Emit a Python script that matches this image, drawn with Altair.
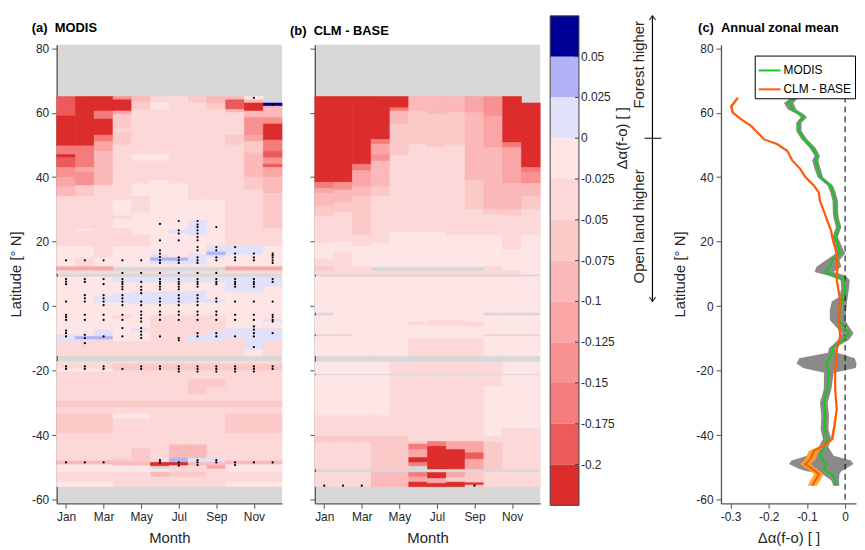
import altair as alt
import pandas as pd

FONT = "Liberation Sans"
MONTHS = ["Jan", "Feb", "Mar", "Apr", "May", "Jun", "Jul", "Aug", "Sep", "Oct", "Nov", "Dec"]
LAT_TICKS = [-60, -50, -40, -30, -20, -10, 0, 10, 20, 30, 40, 50, 60, 70, 80]
MONTH_TICKS = [1, 3, 5, 7, 9, 11]
DX_TICKS = [-0.3, -0.2, -0.1, 0]

# colour classes of the colour bar (top -> bottom)
BIN_EDGES = [0.075, 0.05, 0.025, 0, -0.025, -0.05, -0.075, -0.1, -0.125, -0.15, -0.175, -0.2, -0.225]
BIN_COLORS = ["#000096", "#B2B2F7", "#E1E1FA", "#FEE6E6", "#FDD8D8", "#FCC9C9", "#FBB9B9",
              "#FAA6A6", "#F89292", "#F47C7C", "#EC5A5A", "#DD2C2C"]
CB_LABEL_VALUES = [0.05, 0.025, 0, -0.025, -0.05, -0.075, -0.1, -0.125, -0.15, -0.175, -0.2]
CB_LABELS = ["0.05", "0.025", "0", "-0.025", "-0.05", "-0.075", "-0.1", "-0.125", "-0.15", "-0.175", "-0.2"]
THRESHOLDS = [-0.2, -0.175, -0.15, -0.125, -0.1, -0.075, -0.05, -0.025, 0, 0.025, 0.05]

# ---- (a) MODIS: per month, (upper latitude of segment, value); None = no data
M_JAN = [(65, -0.19), (62, -0.18), (59, -0.21), (49.7, -0.17), (47, -0.21), (46, -0.18), (43, -0.15), (40, -0.11), (37, -0.09), (34, -0.045), (18.5, -0.015), (12.2, -0.12), (11, -0.04), (10.1, None), (9, -0.01), (-8.9, 0.01), (-11, -0.04), (-15.4, None), (-17.2, -0.045), (-19.5, -0.02), (-20.5, -0.04), (-29.5, -0.06), (-31.5, -0.045), (-33.5, -0.06), (-39.5, -0.04), (-48, -0.085), (-49.2, -0.015), (-51.5, -0.045), (-54.5, -0.02), (-56, None)]
M_FEB = [(65, -0.21), (49.7, -0.17), (46, -0.16), (43, -0.12), (41.5, -0.15), (37.4, -0.06), (34, -0.045), (23.8, -0.015), (23.2, -0.045), (18.5, -0.015), (15, -0.03), (12.2, -0.12), (11, -0.04), (10.1, None), (9, -0.01), (-9.4, 0.035), (-10.4, 0.01), (-11, -0.04), (-15.4, None), (-17.2, -0.045), (-19.5, -0.02), (-20.5, -0.04), (-29.5, -0.06), (-31.5, -0.045), (-33.5, -0.06), (-39.5, -0.045), (-48, -0.085), (-49.2, -0.015), (-51.5, -0.045), (-54.5, -0.02), (-56, None)]
M_MAR = [(65, -0.21), (60.5, -0.17), (58, -0.21), (53, -0.16), (51, -0.12), (48, -0.09), (37.4, -0.045), (18.5, -0.03), (15, -0.02), (12.2, -0.12), (11, -0.04), (10.1, None), (9, -0.01), (3, 0.01), (1, -0.01), (-7.4, 0.01), (-9.4, 0.035), (-10.4, -0.03), (-15.4, None), (-17.2, -0.045), (-19.5, -0.02), (-20.5, -0.04), (-29.5, -0.06), (-31.5, -0.045), (-33.5, -0.06), (-39.5, -0.045), (-48, -0.085), (-49.2, -0.015), (-51.5, -0.045), (-54.5, -0.02), (-56, None)]
M_APR = [(65, -0.15), (64, -0.21), (60.5, -0.12), (59.5, -0.07), (55, -0.04), (54, -0.07), (50, -0.045), (33, -0.015), (28, -0.04), (27, -0.015), (24, -0.04), (18.5, -0.015), (12.2, None), (10.9, -0.04), (10.1, None), (9, 0.01), (7.5, -0.01), (4, 0.01), (1, -0.01), (-3, -0.04), (-4, -0.01), (-11, -0.03), (-15.4, None), (-17.2, -0.04), (-18, -0.06), (-20, -0.04), (-29.5, -0.06), (-31.5, -0.045), (-33.5, -0.015), (-35, -0.045), (-47.4, -0.06), (-48.5, -0.085), (-49.5, -0.015), (-51.5, -0.045), (-54.5, -0.04), (-56, None)]
M_MAY = [(65, -0.09), (63.5, -0.06), (61, -0.04), (47, -0.015), (45, -0.04), (38, -0.015), (34, -0.03), (29, -0.015), (22, -0.035), (18.5, -0.015), (12.2, None), (10.9, -0.04), (10.1, None), (9, 0.01), (7.5, -0.01), (4.5, 0.01), (0.5, -0.01), (-7, 0.01), (-8, -0.01), (-11, -0.03), (-15.4, None), (-17.2, -0.04), (-18, -0.06), (-20, -0.04), (-29.5, -0.06), (-31.5, -0.045), (-33.5, -0.015), (-35, -0.045), (-44, -0.06), (-48.5, -0.085), (-49.5, -0.015), (-51.5, -0.045), (-54.5, -0.04), (-56, None)]
M_JUN = [(65, -0.04), (63, -0.01), (61, -0.04), (47, -0.01), (45, -0.04), (39, -0.015), (16, 0.01), (15, 0.035), (14, 0.01), (13, -0.015), (12.2, None), (10.9, -0.04), (10.1, None), (9, 0.01), (7.5, -0.01), (4.5, 0.01), (0.5, -0.01), (-3, -0.03), (-11, -0.03), (-15.4, None), (-17.2, -0.04), (-18, -0.06), (-20, -0.04), (-29.5, -0.06), (-31.5, -0.04), (-44, -0.05), (-48.5, -0.21), (-49.5, None), (-50.5, -0.015), (-51.5, -0.1), (-53, -0.045), (-54.5, -0.04), (-56, None)]
M_JUL = [(65, -0.04), (38, -0.015), (23.5, 0.01), (22.5, -0.015), (15, 0.035), (14, 0.01), (13, -0.015), (12.2, None), (10.9, 0.01), (10.1, None), (9, 0.01), (7.5, -0.01), (4.5, 0.01), (0.5, -0.01), (-3, -0.03), (-11, -0.04), (-15.4, None), (-17.2, -0.04), (-18, -0.06), (-20, -0.04), (-29.5, -0.06), (-31.5, -0.04), (-43, -0.085), (-47.2, 0.035), (-48.5, -0.21), (-49.5, -0.04), (-51.5, -0.06), (-53, -0.04), (-56, None)]
M_AUG = [(65, -0.06), (63, -0.04), (33, -0.02), (26.5, 0.01), (22, -0.015), (16, 0.01), (13, -0.015), (12.2, None), (10.9, -0.04), (10.1, None), (9, 0.01), (7.5, -0.01), (4.5, 0.01), (1, -0.01), (-3, -0.03), (-9, 0.01), (-11, -0.04), (-15.4, None), (-17.2, -0.04), (-18, -0.06), (-20, -0.04), (-22.8, -0.06), (-27.4, -0.04), (-29.5, -0.06), (-31.5, -0.04), (-43, -0.085), (-47.2, 0.01), (-48.5, -0.085), (-49.5, -0.04), (-51.5, -0.06), (-53, -0.04), (-56, None)]
M_SEP = [(65, -0.1), (63, -0.06), (61, -0.04), (33, -0.02), (18.8, 0.01), (16.8, 0.035), (15.8, 0.01), (15, -0.015), (12.2, None), (10.9, -0.04), (10.1, None), (9, 0.01), (7.5, -0.01), (2, 0.01), (1, -0.01), (-3, -0.03), (-8, 0.01), (-11, -0.04), (-15.4, None), (-17.2, -0.04), (-18, -0.06), (-20, -0.04), (-22.8, -0.06), (-25, -0.04), (-29.5, -0.06), (-31.5, -0.04), (-47.2, 0.01), (-48.5, -0.085), (-49.5, -0.11), (-50.5, -0.04), (-56, None)]
M_OCT = [(65, -0.1), (64, -0.19), (61, -0.09), (60, -0.045), (53, -0.06), (50, -0.04), (33, -0.045), (18.8, 0.01), (15.8, -0.015), (12.2, -0.12), (11, -0.04), (10.1, None), (9, 0.01), (4.5, -0.01), (-7, 0.01), (-10, -0.04), (-15.4, None), (-17.2, -0.045), (-18, -0.06), (-20, -0.04), (-29.5, -0.06), (-31.5, -0.045), (-33.5, -0.06), (-39.5, -0.045), (-48, -0.085), (-49.2, -0.015), (-51.5, -0.045), (-54.5, -0.02), (-56, None)]
M_NOV = [(65, -0.01), (64, -0.09), (63, -0.21), (60.5, -0.09), (58.5, -0.15), (56, -0.13), (53, -0.11), (51, -0.07), (47.5, -0.1), (43, -0.085), (40, -0.065), (36, -0.045), (25, -0.04), (18.8, 0.01), (15.8, -0.015), (12.2, -0.12), (11, -0.04), (10.1, None), (9, 0.01), (4.5, -0.01), (-7, 0.01), (-13.5, -0.02), (-15.4, None), (-17.2, -0.045), (-18, -0.06), (-20, -0.04), (-29.5, -0.06), (-31.5, -0.045), (-33.5, -0.06), (-39.5, -0.045), (-48, -0.085), (-49.2, -0.015), (-51.5, -0.045), (-54.5, -0.02), (-56, None)]
M_DEC = [(63, 0.07), (62, -0.1), (58.5, -0.14), (56.5, -0.21), (51.5, -0.17), (48, -0.18), (46, -0.13), (44, -0.19), (43, -0.12), (40, -0.1), (37, -0.09), (35, -0.06), (24, -0.04), (18.5, -0.015), (12.2, -0.12), (11, -0.04), (10.1, None), (9, 0.01), (6, -0.01), (-4, 0.01), (-5, -0.01), (-7, 0.01), (-11, -0.04), (-15.4, None), (-17.2, -0.045), (-18, -0.06), (-20, -0.04), (-29.5, -0.06), (-31.5, -0.045), (-33.5, -0.06), (-39.5, -0.045), (-48, -0.085), (-49.2, -0.015), (-51.5, -0.045), (-54.5, -0.02), (-56, None)]
MODIS_COLUMNS = [M_JAN, M_FEB, M_MAR, M_APR, M_MAY, M_JUN, M_JUL, M_AUG, M_SEP, M_OCT, M_NOV, M_DEC]

# ---- (b) CLM - BASE
C_JAN = [(65, -0.21), (38.4, -0.16), (36.5, -0.12), (35, -0.095), (31, -0.07), (28, -0.045), (19.5, -0.015), (14.5, -0.03), (12.2, -0.06), (11, -0.045), (9.9, None), (9.1, -0.01), (-2, None), (-3, -0.01), (-8.7, None), (-9.4, -0.015), (-15.4, None), (-17.3, -0.015), (-21, None), (-21.5, -0.015), (-34, -0.03), (-40.3, -0.055), (-42.3, -0.045), (-50.5, None), (-51.6, -0.04), (-56, None)]
C_FEB = [(65, -0.21), (38.4, -0.13), (36, -0.09), (32, -0.065), (29, -0.045), (20, -0.015), (16.5, -0.03), (12.2, -0.05), (11, -0.045), (9.9, None), (9.1, -0.01), (-8.7, None), (-9.4, -0.015), (-15.4, None), (-17.3, -0.015), (-21, None), (-21.5, -0.015), (-34, -0.03), (-40.3, -0.055), (-42.3, -0.045), (-50.5, None), (-51.6, -0.035), (-56, None)]
C_MAR = [(65, -0.21), (44, -0.17), (42, -0.12), (37, -0.09), (34, -0.065), (22, -0.045), (18.5, -0.015), (12.2, -0.04), (11, -0.045), (9.9, None), (9.1, -0.01), (-15.4, None), (-17.3, -0.015), (-21, None), (-21.5, -0.015), (-34, -0.035), (-40.3, -0.055), (-42.3, -0.05), (-50.5, None), (-51.6, -0.045), (-56, None)]
C_APR = [(65, -0.21), (51.7, -0.17), (50.2, -0.12), (47, -0.13), (45, -0.1), (41.5, -0.08), (37, -0.06), (34, -0.045), (19.5, -0.012), (12.2, None), (10.9, -0.03), (9.9, None), (9.1, -0.01), (-15.4, None), (-17.3, -0.02), (-21, None), (-21.5, -0.02), (-34, -0.04), (-40.3, -0.055), (-50.5, None), (-51.6, -0.085), (-56, None)]
C_MAY = [(65, -0.21), (61.5, -0.17), (60.5, -0.1), (56.4, -0.07), (46.6, -0.045), (23, -0.012), (12.2, None), (10.9, -0.03), (9.9, None), (9.1, -0.01), (-15.4, None), (-17.3, -0.04), (-21, None), (-21.5, -0.04), (-40.3, -0.06), (-44, -0.07), (-50.5, None), (-51.6, -0.08), (-56, None)]
C_JUN = [(65, -0.1), (60.5, -0.065), (50.2, -0.04), (23, -0.012), (12.2, None), (10.9, -0.03), (9.9, None), (9.1, -0.01), (-5, -0.03), (-6, -0.01), (-10.4, -0.04), (-15.4, None), (-17.3, -0.04), (-21, None), (-21.5, -0.045), (-42, -0.06), (-42.8, -0.17), (-44.5, -0.12), (-47, -0.21), (-48.5, -0.17), (-49.5, None), (-51.6, -0.16), (-53, -0.12), (-54.6, -0.21), (-56, None)]
C_JUL = [(65, -0.1), (59.5, -0.065), (49.3, -0.04), (23, -0.012), (12.2, None), (10.9, -0.03), (9.9, None), (9.1, -0.01), (-4.5, -0.03), (-6, -0.01), (-10.4, -0.04), (-15.4, None), (-17.3, -0.04), (-21, None), (-21.5, -0.045), (-42, -0.17), (-43.5, -0.21), (-50.5, None), (-51.6, -0.21), (-53.5, -0.12), (-55, -0.21), (-56, None)]
C_AUG = [(65, -0.09), (60, -0.065), (50, -0.04), (22, -0.012), (12.2, None), (10.9, -0.03), (9.9, None), (9.1, -0.01), (-4.5, -0.03), (-6, -0.01), (-10.4, -0.04), (-15.4, None), (-17.3, -0.04), (-21, None), (-21.5, -0.045), (-42, -0.12), (-44.5, -0.21), (-50.5, None), (-51.6, -0.12), (-53, -0.07), (-54.6, -0.21), (-56, None)]
C_SEP = [(65, -0.12), (60, -0.09), (38.9, -0.06), (30, -0.045), (22, -0.012), (12.2, None), (10.9, -0.03), (9.9, None), (9.1, -0.01), (-5, -0.03), (-6.5, -0.012), (-10.4, -0.04), (-15.4, None), (-17.3, -0.04), (-21, None), (-21.5, -0.045), (-32, -0.03), (-42, -0.12), (-45.5, -0.18), (-47.5, -0.12), (-50.5, None), (-51.6, -0.07), (-54.8, -0.21), (-55.5, -0.06), (-56, None)]
C_OCT = [(65, -0.14), (62, -0.15), (59, -0.12), (49.2, -0.1), (40, -0.085), (30, -0.06), (28.5, -0.045), (22, -0.015), (12.2, -0.03), (11, -0.04), (9.9, None), (9.1, -0.01), (-2, None), (-3, -0.012), (-8.7, None), (-9.4, -0.015), (-15.4, None), (-17.3, -0.03), (-21, None), (-21.5, -0.045), (-25, -0.015), (-40.3, -0.045), (-42.3, -0.06), (-50.5, None), (-51.6, -0.03), (-56, None)]
C_NOV = [(65, -0.21), (50.7, -0.17), (49.2, -0.11), (38, -0.09), (30, -0.06), (28, -0.045), (22, -0.04), (17.5, -0.012), (12.2, -0.015), (11, -0.04), (9.9, None), (9.1, -0.01), (-2, None), (-3, -0.012), (-8.7, None), (-9.4, -0.015), (-15.4, None), (-17.3, -0.02), (-21, None), (-21.5, -0.02), (-38, -0.035), (-40.3, -0.045), (-42.3, -0.04), (-50.5, None), (-51.6, -0.03), (-56, None)]
C_DEC = [(63, -0.21), (43, -0.17), (41.5, -0.13), (38, -0.1), (34, -0.07), (30, -0.045), (22, -0.015), (9.9, None), (9.1, -0.012), (-2, None), (-3, -0.012), (-8.7, None), (-9.4, -0.012), (-15.4, None), (-17.3, -0.02), (-21, None), (-21.5, -0.02), (-38, -0.03), (-42.3, -0.04), (-50.5, None), (-51.6, -0.03), (-56, None)]
CLM_COLUMNS = [C_JAN, C_FEB, C_MAR, C_APR, C_MAY, C_JUN, C_JUL, C_AUG, C_SEP, C_OCT, C_NOV, C_DEC]

# ---- significance stippling (latitudes per month)
DOTS_A = [
    [14.2, 8.4, 7.6, 6.8, 1.4, -2.7, -3.4, -4.3, -7.6, -8.4, -9.4, -18.7, -19.5, -48.5],
    [14.2, 8.4, 7.5, 3.4, 2.4, 1.4, -2.7, -4.3, -8.9, -9.9, -11.5, -18.7, -19.5, -48.5],
    [14.2, 8.4, 6.8, 3.4, 2.4, 1.4, 0.3, -2.7, -4.3, -9.4, -18.7, -19.5, -48.5],
    [14.2, 10.3, 8.4, 7.5, 6.8, 6.0, 5.2, 3.4, 2.4, 1.4, 0.3, -2.7, -4.3, -6.8, -9.4, -19.5],
    [14.2, 10.3, 7.5, 6.0, 5.0, 4.0, 1.4, 0.3, -1.7, -2.7, -3.8, -4.8, -6.8, -7.9, -8.9, -9.9, -18.7, -19.5],
    [25.5, 20.4, 17.3, 16.3, 15.3, 14.2, 13.4, 10.3, 8.4, 7.5, 6.8, 6.0, 5.2, 2.4, 1.4, 0.3, -1.7, -2.7, -4.3, -9.4, -18.7, -19.5, -47.8, -48.5],
    [26.4, 23.5, 22.5, 20.4, 15.1, 14.2, 13.4, 10.3, 8.4, 7.5, 6.8, 6.0, 5.2, 3.4, 2.4, 1.4, 0.3, -1.7, -2.7, -4.3, -9.9, -10.6, -18.7, -19.5, -20.3, -48.5, -49.5],
    [26.4, 25.3, 24.5, 23.5, 22.5, 21.4, 20.4, 18.3, 17.3, 15.1, 14.2, 13.4, 10.3, 8.4, 7.5, 6.8, 6.0, 3.4, 2.4, 1.4, 0.3, -1.7, -2.7, -4.3, -8.4, -9.4, -18.7, -19.5, -20.3, -47.8, -48.5, -49.3],
    [24.5, 18.3, 17.3, 15.1, 14.2, 10.3, 8.4, 7.5, 6.8, 2.4, 1.4, -1.7, -2.7, -4.3, -8.4, -9.4, -18.7, -19.5, -20.3, -47.8, -48.5],
    [18.3, 16.3, 15.1, 14.2, 8.4, 7.5, 6.8, 6.0, 1.4, -2.7, -4.3, -9.4, -18.7, -19.5, -20.3, -48.5, -49.3],
    [64.6, 16.3, 15.1, 14.2, 8.4, 7.5, 6.8, 6.0, 1.4, -2.7, -4.3, -6.3, -7.3, -8.4, -9.4, -12.7, -18.7, -19.5, -20.3, -48.5],
    [62.5, 16.3, 15.8, 15.1, 14.2, 13.4, 8.4, 7.5, 1.4, -2.7, -3.4, -4.3, -4.8, -8.4, -18.7, -19.5, -48.5],
]
DOTS_B = [[-55.7], [-55.7], [-55.7], [], [], [], [], [], [-55.7], [], [], []]

# ---- (c) annual zonal means
MODIS_LAT = [64.4, 63.0, 61.0, 59.5, 58.6, 56.9, 54.3, 51.8, 49.2, 46.6, 45.1, 42.5, 40.0, 37.4, 35.3, 32.7, 28.6, 26.6, 24.5, 21.4, 18.3, 16.3, 14.2, 12.2, 10.6, 9.5, 8.1, 5.5, 2.9, 1.4, -1.2, -4.3, -6.3, -8.4, -10.4, -12.0, -13.0, -14.5, -16.2, -17.8, -19.2, -20.7, -25.9, -30.0, -34.1, -38.2, -41.3, -43.8, -46.4, -47.9, -49.0, -50.5, -51.2, -52.1, -54.1, -55.7]
MODIS_VAL = [-0.135, -0.147, -0.138, -0.117, -0.108, -0.121, -0.121, -0.108, -0.086, -0.073, -0.078, -0.072, -0.065, -0.039, -0.032, -0.026, -0.025, -0.022, -0.017, -0.026, -0.017, -0.013, -0.034, -0.039, -0.052, -0.03, -0.002, 0.0, -0.004, -0.009, -0.015, -0.017, -0.004, 0.009, -0.004, -0.022, -0.034, -0.034, -0.04, -0.049, -0.046, -0.043, -0.046, -0.056, -0.052, -0.054, -0.046, -0.056, -0.065, -0.058, -0.049, -0.056, -0.05, -0.034, -0.026, -0.023]
MODIS_LO = [-0.145, -0.16, -0.15, -0.125, -0.116, -0.128, -0.128, -0.115, -0.094, -0.08, -0.086, -0.08, -0.072, -0.046, -0.039, -0.033, -0.032, -0.029, -0.024, -0.033, -0.026, -0.025, -0.05, -0.075, -0.08, -0.045, -0.012, -0.01, -0.015, -0.035, -0.04, -0.04, -0.025, -0.008, -0.018, -0.032, -0.042, -0.045, -0.12, -0.127, -0.11, -0.055, -0.056, -0.066, -0.062, -0.064, -0.058, -0.07, -0.1, -0.14, -0.147, -0.12, -0.1, -0.06, -0.036, -0.031]
MODIS_HI = [-0.125, -0.135, -0.128, -0.108, -0.1, -0.114, -0.114, -0.1, -0.078, -0.066, -0.07, -0.064, -0.058, -0.032, -0.025, -0.019, -0.018, -0.015, -0.01, -0.019, -0.008, 0.0, -0.015, -0.01, -0.03, 0.0, 0.012, 0.01, 0.007, 0.005, 0.003, 0.0, 0.01, 0.022, 0.01, -0.012, -0.026, -0.02, 0.025, 0.03, 0.028, -0.03, -0.036, -0.046, -0.042, -0.044, -0.036, -0.044, -0.03, 0.015, 0.022, 0.0, -0.01, -0.015, -0.016, -0.015]
CLM_LAT = [64.6, 62.0, 60.0, 57.9, 55.9, 53.3, 51.7, 50.2, 48.1, 45.1, 42.5, 40.0, 37.4, 35.3, 32.7, 29.6, 26.6, 23.5, 20.4, 16.3, 12.2, 8.1, 1.9, -4.3, -9.4, -13.5, -19.7, -25.8, -32.0, -37.2, -41.3, -43.3, -44.9, -47.5, -49.0, -50.5, -52.1, -54.1, -55.7]
CLM_VAL = [-0.281, -0.298, -0.294, -0.272, -0.246, -0.225, -0.212, -0.177, -0.151, -0.138, -0.117, -0.104, -0.082, -0.069, -0.066, -0.056, -0.047, -0.037, -0.032, -0.022, -0.020, -0.022, -0.013, -0.017, -0.013, -0.022, -0.026, -0.026, -0.022, -0.028, -0.034, -0.056, -0.082, -0.091, -0.104, -0.086, -0.069, -0.078, -0.086]
CLM_ERR = [0.004, 0.004, 0.003, 0.002, 0.002, 0.002, 0.002, 0.002, 0.002, 0.002, 0.002, 0.002, 0.002, 0.002, 0.002, 0.002, 0.002, 0.002, 0.002, 0.002, 0.002, 0.002, 0.002, 0.002, 0.002, 0.002, 0.002, 0.002, 0.002, 0.003, 0.004, 0.008, 0.013, 0.014, 0.014, 0.013, 0.012, 0.013, 0.012]


def columns_to_frame(columns):
    rows = []
    for m, segs in enumerate(columns, start=1):
        for (top, val), (bottom, _) in zip(segs[:-1], segs[1:]):
            if val is None:
                continue
            rows.append({"month": m, "lat_hi": top, "lat_lo": bottom, "val": val})
    return pd.DataFrame(rows)


def dots_to_frame(dots):
    return pd.DataFrame([{"month": m, "lat": v} for m, lats in enumerate(dots, start=1) for v in lats])


y_scale = alt.Scale(domain=[-61.2, 81.1], nice=False, zero=False)
x_month_scale = alt.Scale(domain=[0.5, 12.5], nice=False, zero=False)
color_scale = alt.Scale(type="threshold", domain=THRESHOLDS, range=list(reversed(BIN_COLORS)))
month_expr = "[" + ",".join("'%s'" % m for m in MONTHS) + "][datum.value - 1]"

W, H = 227, 462
TITLE_OFFSET = 7


def heat_panel(columns, dots, title, y_labels):
    df = columns_to_frame(columns)
    y_axis = alt.Axis(values=LAT_TICKS, labelExpr="'' + datum.value",
                      title="Latitude [° N]" if y_labels else None, labels=y_labels)
    rects = alt.Chart(df).transform_calculate(
        x0="datum.month - 0.5", x1="datum.month + 0.5"
    ).mark_rect(strokeWidth=0.6).encode(
        x=alt.X("x0:Q", scale=x_month_scale,
                axis=alt.Axis(values=MONTH_TICKS, labelExpr=month_expr, title="Month")),
        x2="x1:Q",
        y=alt.Y("lat_hi:Q", scale=y_scale, axis=y_axis),
        y2="lat_lo:Q",
        fill=alt.Fill("val:Q", scale=color_scale, legend=None),
        stroke=alt.Stroke("val:Q", scale=color_scale, legend=None),
    )
    layers = [rects]
    ddf = dots_to_frame(dots)
    if len(ddf):
        layers.append(alt.Chart(ddf).mark_circle(size=5, color="black", opacity=1).encode(
            x=alt.X("month:Q", scale=x_month_scale), y=alt.Y("lat:Q", scale=y_scale)))
    return alt.layer(*layers).properties(
        width=W, height=H,
        title=alt.Title(title, anchor="start", frame="group", dx=-25, fontSize=13,
                        fontWeight="bold", font=FONT, color="black", offset=TITLE_OFFSET),
        view=alt.ViewBackground(fill="#D8D8D8", stroke=None),
    )


panel_a = heat_panel(MODIS_COLUMNS, DOTS_A, "(a)\u00a0\u00a0MODIS", True)
panel_b = heat_panel(CLM_COLUMNS, DOTS_B, "(b)\u00a0\u00a0CLM - BASE", False)

# ---- colour bar (same plot height as the panels; the bar itself reaches above the panel top)
cb_scale = alt.Scale(domain=[-0.2238, 0.05735], nice=False, zero=False)
cb_df = pd.DataFrame({"hi": BIN_EDGES[:-1], "lo": BIN_EDGES[1:], "color": BIN_COLORS})
lab_df = pd.DataFrame({"v": CB_LABEL_VALUES, "label": CB_LABELS})
CBW = 29
cb_bars = alt.Chart(cb_df).mark_rect().encode(
    y=alt.Y("hi:Q", scale=cb_scale, axis=None), y2="lo:Q",
    x=alt.value(0), x2=alt.value(CBW), fill=alt.Fill("color:N", scale=None))
cb_frame = alt.Chart(pd.DataFrame({"a": [BIN_EDGES[0]], "b": [BIN_EDGES[-1]]})).mark_rect(
    fillOpacity=0, stroke="#444", strokeWidth=1).encode(
    y=alt.Y("a:Q", scale=cb_scale, axis=None), y2="b:Q", x=alt.value(0), x2=alt.value(CBW))
cb_ticks = alt.Chart(lab_df).mark_rule(color="#444").encode(
    y=alt.Y("v:Q", scale=cb_scale), x=alt.value(CBW - 4), x2=alt.value(CBW))
cb_text = alt.Chart(lab_df).mark_text(align="left", baseline="middle", fontSize=12, font=FONT,
                                      color="#262626").encode(
    y=alt.Y("v:Q", scale=cb_scale), x=alt.value(CBW + 2), text="label:N")
cb_title = alt.Chart(pd.DataFrame({"t": ["Δα(f-o) [ ]"], "v": [0.0]})).mark_text(
    angle=270, fontSize=15, font=FONT, color="#262626", baseline="middle", align="center").encode(
    y=alt.Y("v:Q", scale=cb_scale), x=alt.value(72), text="t:N")
side_df = pd.DataFrame({"t": ["Forest higher", "Open land higher"], "v": [0.045, -0.054]})
cb_side = alt.Chart(side_df).mark_text(
    angle=270, fontSize=15, font=FONT, color="#262626", baseline="middle", align="center").encode(
    y=alt.Y("v:Q", scale=cb_scale), x=alt.value(89), text="t:N")
arrow_df = pd.DataFrame({"top": [0.075], "bot": [-0.1], "zero": [0.0]})
cb_arrow = alt.Chart(arrow_df).mark_rule(color="black", strokeWidth=1.2).encode(
    y=alt.Y("top:Q", scale=cb_scale), y2="bot:Q", x=alt.value(103))
cb_zero = alt.Chart(arrow_df).mark_rule(color="black", strokeWidth=1).encode(
    y=alt.Y("zero:Q", scale=cb_scale), x=alt.value(95), x2=alt.value(112))
head_up = alt.Chart(arrow_df).mark_point(shape="M -1 1.4 L 0 0 L 1 1.4", size=40, color="black",
                                         strokeWidth=1.3, filled=False).encode(
    y=alt.Y("top:Q", scale=cb_scale), x=alt.value(103))
head_dn = alt.Chart(arrow_df).mark_point(shape="M -1 -1.4 L 0 0 L 1 -1.4", size=40, color="black",
                                         strokeWidth=1.3, filled=False).encode(
    y=alt.Y("bot:Q", scale=cb_scale), x=alt.value(103))
colorbar = alt.layer(cb_bars, cb_frame, cb_ticks, cb_text, cb_title, cb_side,
                     cb_arrow, cb_zero, head_up, head_dn).properties(
    width=CBW, height=H, view=alt.ViewBackground(stroke=None))

# ---- (c) annual zonal mean
CW = 136
cx_scale = alt.Scale(domain=[-0.325, 0.0285], nice=False, zero=False)
cx_axis = alt.Axis(values=DX_TICKS, labelExpr="'' + datum.value", title="Δα(f-o) [ ]")
cy_axis = alt.Axis(values=LAT_TICKS, labelExpr="'' + datum.value", title="Latitude [° N]")
modis_df = pd.DataFrame({"lat": MODIS_LAT, "val": MODIS_VAL, "lo": MODIS_LO, "hi": MODIS_HI, "series": "MODIS"})
clm_df = pd.DataFrame({"lat": CLM_LAT, "val": CLM_VAL, "series": "CLM - BASE"})
clm_df["lo"] = clm_df["val"] - pd.Series(CLM_ERR)
clm_df["hi"] = clm_df["val"] + pd.Series(CLM_ERR)

band_m = alt.Chart(modis_df).mark_area(orient="horizontal", color="#8A8A8A", opacity=1).encode(
    y=alt.Y("lat:Q", scale=y_scale, axis=cy_axis),
    x=alt.X("lo:Q", scale=cx_scale, axis=cx_axis), x2="hi:Q")
band_c = alt.Chart(clm_df).mark_area(orient="horizontal", color="#FFA21F", opacity=0.9).encode(
    y=alt.Y("lat:Q", scale=y_scale), x=alt.X("lo:Q", scale=cx_scale), x2="hi:Q")
zero_line = alt.Chart(pd.DataFrame({"x": [0.0], "y": [65.0], "y2": [-61.2]})).mark_rule(
    color="black", strokeDash=[6, 4], strokeWidth=1).encode(
    x=alt.X("x:Q", scale=cx_scale), y=alt.Y("y:Q", scale=y_scale), y2="y2:Q")
lines = alt.Chart(pd.concat([modis_df, clm_df])).mark_line(strokeWidth=2.2).encode(
    x=alt.X("val:Q", scale=cx_scale),
    y=alt.Y("lat:Q", scale=y_scale),
    order=alt.Order("lat:Q"),
    color=alt.Color("series:N",
                    scale=alt.Scale(domain=["MODIS", "CLM - BASE"], range=["#1FC41F", "#FF5A0A"]),
                    legend=alt.Legend(title=None, orient="none", legendX=703, legendY=11,
                                      strokeColor="black", fillColor="white", padding=3,
                                      symbolType="stroke", symbolSize=480, symbolStrokeWidth=2,
                                      labelFontSize=12, labelFont=FONT, labelColor="black",
                                      rowPadding=1, labelOffset=2)),
)
panel_c = alt.layer(band_m, band_c, zero_line, lines).properties(
    width=CW, height=H,
    title=alt.Title("(c)\u00a0\u00a0Annual zonal mean", anchor="start", frame="group", dx=-23,
                    fontSize=13, fontWeight="bold", font=FONT, color="black", offset=TITLE_OFFSET),
    view=alt.ViewBackground(stroke=None),
)

left = alt.hconcat(panel_a, panel_b, spacing=7)
right = alt.hconcat(colorbar, panel_c, spacing=10)
chart = alt.hconcat(left, right, spacing=8).properties(
    padding={"left": 0, "top": 3, "right": 0, "bottom": 0}
).configure_axis(
    labelFont=FONT, labelFontSize=12, labelColor="#262626",
    titleFont=FONT, titleFontSize=15, titleFontWeight="normal", titleColor="#262626",
    domainColor="#555555", domainWidth=1.3, tickColor="#555555", tickSize=5,
    labelPadding=3, titlePadding=8, grid=False,
).configure_view(stroke=None)

chart.save("out.html", embed_options={"renderer": "svg", "actions": False})
